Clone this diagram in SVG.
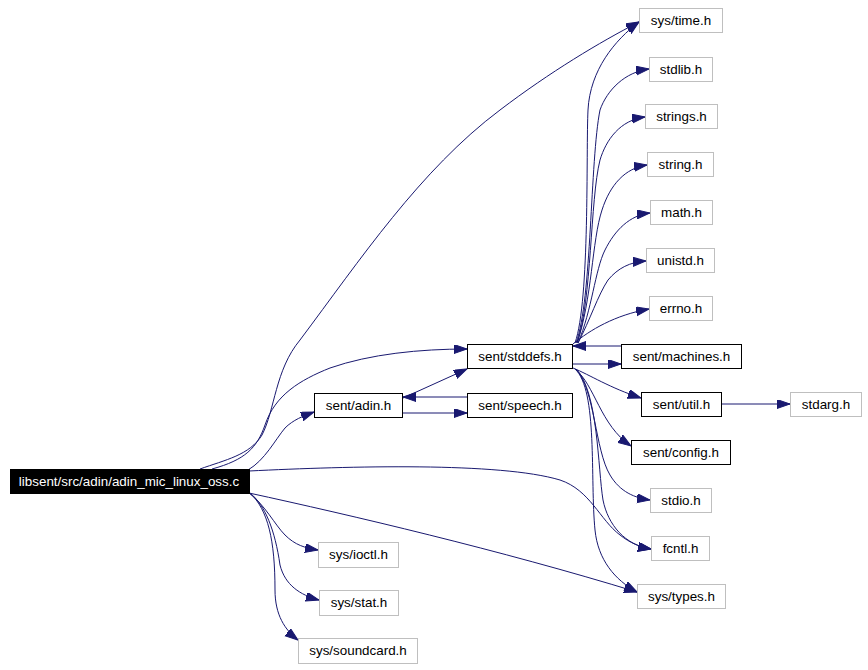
<svg xmlns="http://www.w3.org/2000/svg" width="868" height="670" viewBox="0 0 868 670">
<style>
.n rect{fill:#fff;stroke:#000;stroke-width:1}
.g rect{fill:#fff;stroke:#bfbfbf;stroke-width:1}
.m rect{fill:#000;stroke:#000;stroke-width:1}
text{font-family:"Liberation Sans",Arial,sans-serif;font-size:13.4px;text-anchor:middle;fill:#000}
.m text{fill:#fff}
#edges path{fill:none;stroke:#191970;stroke-width:1;marker-end:url(#ah)}
</style>
<defs>
<marker id="ah" markerUnits="userSpaceOnUse" markerWidth="14" markerHeight="10" refX="13" refY="4.5" orient="auto">
<path d="M0,0 L13,4.5 L0,9 z" fill="#191970" stroke="#191970" stroke-width="1"/>
</marker>
</defs>
<rect width="868" height="670" fill="#fff"/>
<g id="edges">
<path d="M200,469 C225,460 250,455 262,435 C275,410 275,370 300,340 C360,260 420,170 500,110 C550,72 600,42 639,22"/>
<path d="M212,469 C245,460 257,448 265,425 C275,395 300,380 330,368 C370,354 420,349 467,349"/>
<path d="M248,470 C265,460 275,440 285,428 C293,420 303,416 314,412"/>
<path d="M249,471 C350,466 500,462 560,480 C590,490 600,520 620,535 C630,543 640,547 651,549"/>
<path d="M249,493 C350,515 500,550 637,592"/>
<path d="M249,493 C265,505 275,525 285,535 C295,545 305,548 318,550"/>
<path d="M250,493 C265,505 275,530 280,565 C285,585 300,595 319,600"/>
<path d="M250,493 C268,510 275,540 275,590 C275,615 285,630 298,640"/>
<path d="M403,398 L467,369"/>
<path d="M467,397 L403,397"/>
<path d="M403,413 L467,413"/>
<path d="M573,364 L621,364"/>
<path d="M621,346 L573,346"/>
<path d="M722,404 L790,404"/>
<path d="M575,343 C590,300 586,150 588,110 C590,70 615,40 639,22"/>
<path d="M576,343 C592,300 590,160 600,110 C607,90 625,72 649,69"/>
<path d="M577,343 C592,300 590,200 600,160 C606,140 620,120 645,117"/>
<path d="M577,343 C592,300 592,240 602,210 C610,185 625,168 647,165"/>
<path d="M578,343 C592,310 595,270 605,250 C615,230 630,215 650,213"/>
<path d="M578,343 C590,320 598,295 608,280 C618,268 630,262 646,261"/>
<path d="M573,344 C590,330 615,315 649,309"/>
<path d="M573,368 C590,375 610,388 641,398"/>
<path d="M575,369 C595,385 600,425 631,446"/>
<path d="M576,369 C595,390 595,450 610,475 C620,492 635,498 650,500"/>
<path d="M576,369 C598,390 598,470 603,500 C608,525 625,545 651,549"/>
<path d="M575,369 C598,390 590,480 595,530 C598,560 615,580 637,592"/>
</g>
<g id="main" class="m"><rect x="10.5" y="469.5" width="239" height="24"/><text x="129" y="486">libsent/src/adin/adin_mic_linux_oss.c</text></g>
<g id="adin" class="n"><rect x="314.5" y="393.5" width="88" height="24"/><text x="358.5" y="410">sent/adin.h</text></g>
<g id="stddefs" class="n"><rect x="467.5" y="344.5" width="105" height="24"/><text x="520" y="361">sent/stddefs.h</text></g>
<g id="speech" class="n"><rect x="467.5" y="393.5" width="105" height="24"/><text x="520" y="410">sent/speech.h</text></g>
<g id="machines" class="n"><rect x="621.5" y="344.5" width="120" height="24"/><text x="681.5" y="361">sent/machines.h</text></g>
<g id="util" class="n"><rect x="641.5" y="392.5" width="80" height="24"/><text x="681.5" y="409">sent/util.h</text></g>
<g id="config" class="n"><rect x="631.5" y="440.5" width="99" height="24"/><text x="681" y="457">sent/config.h</text></g>
<g id="stdarg" class="g"><rect x="790.5" y="392.5" width="71" height="24"/><text x="826" y="409">stdarg.h</text></g>
<g id="systime" class="g"><rect x="639.5" y="8.5" width="83" height="24"/><text x="681" y="25">sys/time.h</text></g>
<g id="stdlib" class="g"><rect x="649.5" y="57.5" width="63" height="24"/><text x="681" y="74">stdlib.h</text></g>
<g id="strings" class="g"><rect x="645.5" y="104.5" width="72" height="24"/><text x="681.5" y="121">strings.h</text></g>
<g id="string" class="g"><rect x="647.5" y="152.5" width="66" height="24"/><text x="680.5" y="169">string.h</text></g>
<g id="math" class="g"><rect x="650.5" y="200.5" width="62" height="24"/><text x="681.5" y="217">math.h</text></g>
<g id="unistd" class="g"><rect x="646.5" y="248.5" width="68" height="24"/><text x="680.5" y="265">unistd.h</text></g>
<g id="errno" class="g"><rect x="649.5" y="296.5" width="63" height="24"/><text x="681" y="313">errno.h</text></g>
<g id="stdio" class="g"><rect x="650.5" y="488.5" width="61" height="24"/><text x="681" y="505">stdio.h</text></g>
<g id="fcntl" class="g"><rect x="651.5" y="536.5" width="58" height="24"/><text x="680.5" y="553">fcntl.h</text></g>
<g id="systypes" class="g"><rect x="637.5" y="584.5" width="88" height="24"/><text x="681.5" y="601">sys/types.h</text></g>
<g id="sysioctl" class="g"><rect x="318.5" y="542.5" width="80" height="25"/><text x="358.5" y="559">sys/ioctl.h</text></g>
<g id="sysstat" class="g"><rect x="319.5" y="590.5" width="79" height="25"/><text x="359" y="607">sys/stat.h</text></g>
<g id="soundcard" class="g"><rect x="298.5" y="638.5" width="119" height="25"/><text x="358" y="655">sys/soundcard.h</text></g>
</svg>
